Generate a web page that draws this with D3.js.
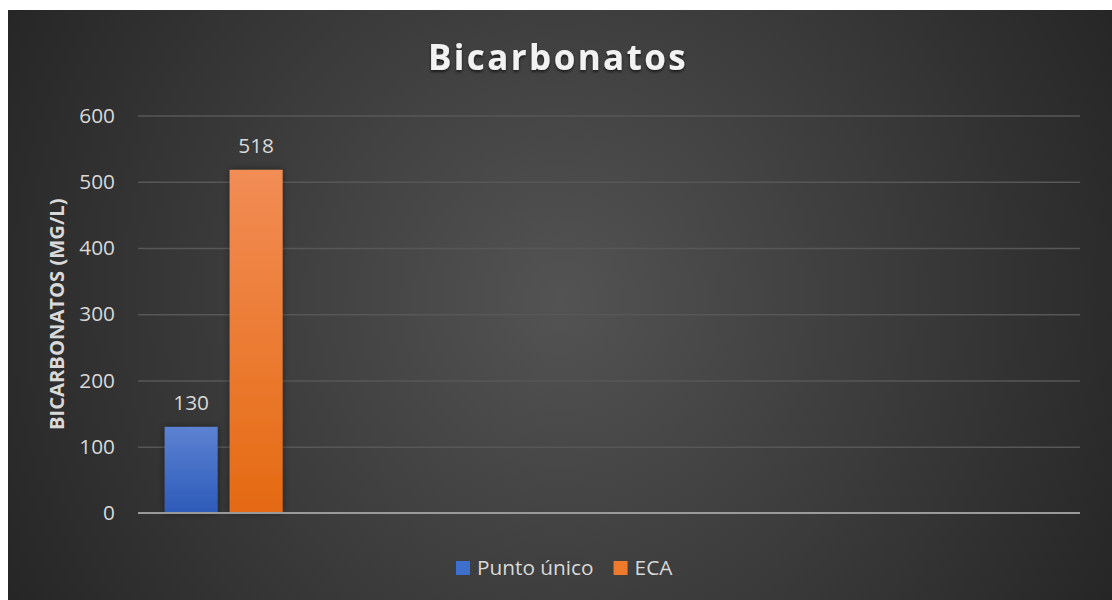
<!DOCTYPE html>
<html>
<head>
<meta charset="utf-8">
<script src="https://cdn.jsdelivr.net/npm/d3@7"></script>
<style>
  html, body { margin: 0; padding: 0; background: #ffffff; }
  svg { display: block; font-family: "Open Sans", "DejaVu Sans", sans-serif; }
</style>
</head>
<body>
<svg id="chart" width="1112" height="600"></svg>
<script>
// Chart content
const chartTitle = "Bicarbonatos";
const yAxisTitle = "BICARBONATOS (MG/L)";
const categories = ["Bicarbonatos"];
const seriesNames = ["Punto único", "ECA"];
const seriesValues = [[130], [518]];   // one value per category for each series
const yTicks = [0, 100, 200, 300, 400, 500, 600];
const seriesColors = [
  { top: "#5c82d2", bottom: "#2d5bb9", legend: "#3f6fcc" },
  { top: "#f28d55", bottom: "#e56a12", legend: "#f07a2c" }
];

const W = 1112, H = 600;
const frame = { left: 8, top: 10 };
const plot = { left: 138, right: 1080, top: 115.5, bottom: 513 };
const labelSize = 20.8;

const svg = d3.select("#chart");
const defs = svg.append("defs");

// Dark radial backdrop
const bg = defs.append("radialGradient")
  .attr("id", "bgGrad")
  .attr("gradientUnits", "userSpaceOnUse")
  .attr("cx", 560).attr("cy", 300).attr("r", 640);
bg.append("stop").attr("offset", "0%").attr("stop-color", "#535353");
bg.append("stop").attr("offset", "100%").attr("stop-color", "#252525");

seriesColors.forEach((c, i) => {
  const g = defs.append("linearGradient")
    .attr("id", "barGrad" + i)
    .attr("x1", 0).attr("y1", 0).attr("x2", 0).attr("y2", 1);
  g.append("stop").attr("offset", "0%").attr("stop-color", c.top);
  g.append("stop").attr("offset", "100%").attr("stop-color", c.bottom);
});

const barShadow = defs.append("filter").attr("id", "barShadow")
  .attr("x", "-30%").attr("y", "-10%").attr("width", "160%").attr("height", "120%");
barShadow.append("feDropShadow")
  .attr("dx", 0).attr("dy", 0).attr("stdDeviation", 3.5)
  .attr("flood-color", "#000").attr("flood-opacity", 0.45);

const textShadow = defs.append("filter").attr("id", "textShadow")
  .attr("x", "-10%").attr("y", "-30%").attr("width", "120%").attr("height", "160%");
textShadow.append("feDropShadow")
  .attr("dx", 0).attr("dy", 2).attr("stdDeviation", 1.5)
  .attr("flood-color", "#000").attr("flood-opacity", 0.6);

svg.append("rect")
  .attr("x", frame.left).attr("y", frame.top)
  .attr("width", W - frame.left).attr("height", H - frame.top)
  .attr("fill", "url(#bgGrad)");

// Scales
const y = d3.scaleLinear().domain([0, 600]).range([plot.bottom, plot.top]);
const x0 = d3.scaleBand().domain(categories)
  .range([plot.left, plot.right])
  .paddingInner(0).paddingOuter(2.25).align(0);
const x1 = d3.scaleBand().domain(seriesNames)
  .range([0, x0.bandwidth()])
  .paddingInner(0.185).paddingOuter(0.41);

// Gridlines and value labels on the left axis
const yAxis = d3.axisLeft(y)
  .tickValues(yTicks)
  .tickSize(-(plot.right - plot.left))
  .tickPadding(23)
  .tickFormat(d3.format("d"));

const gy = svg.append("g")
  .attr("transform", `translate(${plot.left},0)`)
  .call(yAxis);
gy.select(".domain").remove();
gy.selectAll(".tick line")
  .attr("stroke", "#575757").attr("stroke-width", 1.5)
  .filter(d => d === 0).remove();
gy.selectAll(".tick text")
  .attr("fill", "#d9d9d9")
  .attr("font-size", labelSize)
  .attr("font-family", "\"Open Sans\", sans-serif");

// Bars
const groups = svg.append("g").selectAll("g")
  .data(categories)
  .join("g")
  .attr("transform", d => `translate(${x0(d)},0)`);

groups.selectAll("rect")
  .data((d, ci) => seriesNames.map((s, si) => ({ s, si, v: seriesValues[si][ci] })))
  .join("rect")
  .attr("x", d => x1(d.s))
  .attr("y", d => y(d.v))
  .attr("width", x1.bandwidth())
  .attr("height", d => y(0) - y(d.v))
  .attr("fill", d => `url(#barGrad${d.si})`)
  .attr("filter", "url(#barShadow)");

groups.selectAll("text.value")
  .data((d, ci) => seriesNames.map((s, si) => ({ s, si, v: seriesValues[si][ci] })))
  .join("text")
  .attr("class", "value")
  .attr("x", d => x1(d.s) + x1.bandwidth() / 2)
  .attr("y", d => y(d.v) - 17)
  .attr("text-anchor", "middle")
  .attr("font-size", labelSize)
  .attr("fill", "#d9d9d9")
  .text(d => d.v);

// Category axis baseline
svg.append("line")
  .attr("x1", plot.left).attr("x2", plot.right)
  .attr("y1", y(0)).attr("y2", y(0))
  .attr("stroke", "#9a9a9a").attr("stroke-width", 2);

// Title
svg.append("text")
  .attr("x", 558).attr("y", 70)
  .attr("text-anchor", "middle")
  .attr("font-size", 35)
  .attr("font-weight", "bold")
  .attr("letter-spacing", 2.4)
  .attr("fill", "#f2f2f2")
  .attr("filter", "url(#textShadow)")
  .text(chartTitle);

// Vertical axis title
svg.append("text")
  .attr("transform", `translate(64,${(plot.top + plot.bottom) / 2}) rotate(-90)`)
  .attr("text-anchor", "middle")
  .attr("font-size", 20.2)
  .attr("font-weight", "bold")
  .attr("fill", "#d9d9d9")
  .text(yAxisTitle);

// Legend
const legendItems = seriesNames.map((s, i) => ({ s, i }));
const legend = svg.append("g");
let lx = 456;
legendItems.forEach(d => {
  const g = legend.append("g").attr("transform", `translate(${lx},0)`);
  g.append("rect")
    .attr("x", 0).attr("y", 561)
    .attr("width", 14).attr("height", 14)
    .attr("fill", seriesColors[d.i].legend);
  const t = g.append("text")
    .attr("x", 21).attr("y", 575)
    .attr("font-size", labelSize)
    .attr("fill", "#d9d9d9")
    .text(d.s);
  lx += 21 + t.node().getComputedTextLength() + 20;
});
</script>
</body>
</html>
